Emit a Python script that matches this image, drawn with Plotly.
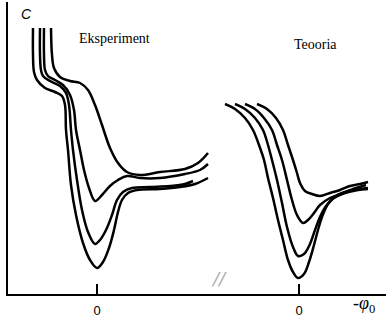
import plotly.graph_objects as go

# --- Experiment (left panel): potential relative to pzc, capacitance (arb. units)
exp_x_a = [-0.64, -0.64, -0.63, -0.60, -0.52, -0.42, -0.35, -0.32, -0.31, -0.29, -0.26, -0.21, -0.14, -0.07, 0.00,
           0.06, 0.12, 0.17, 0.21, 0.25, 0.31, 0.40, 0.63, 0.83, 0.98, 1.11]
exp_c_a = [26.6, 23.9, 22.2, 21.4, 20.6, 20.2, 19.8, 18.9, 16.4, 14.4, 10.9, 7.9, 5.1, 3.4, 2.6,
           3.2, 4.6, 6.4, 8.2, 9.4, 10.1, 10.4, 10.5, 10.7, 11.0, 11.6]

exp_x_b = [-0.57, -0.57, -0.56, -0.54, -0.47, -0.37, -0.31, -0.28, -0.26, -0.24, -0.20, -0.15, -0.09, -0.02,
           0.03, 0.09, 0.15, 0.20, 0.26, 0.35, 0.53, 0.73, 0.88, 0.96]
exp_c_b = [26.6, 23.9, 22.4, 21.8, 21.3, 20.8, 20.1, 18.9, 16.4, 14.4, 11.4, 8.4, 6.2, 5.0,
           5.4, 6.4, 7.9, 9.4, 10.2, 10.6, 10.7, 10.8, 11.0, 11.3]

exp_x_c = [-0.53, -0.53, -0.52, -0.49, -0.42, -0.34, -0.27, -0.23, -0.21, -0.17, -0.13, -0.08, -0.02,
           0.05, 0.13, 0.21, 0.30, 0.43, 0.63, 0.88, 1.03, 1.11]
exp_c_c = [26.6, 23.9, 22.4, 21.8, 21.4, 20.9, 19.9, 18.4, 16.4, 14.4, 12.4, 10.6, 9.3,
           9.9, 10.8, 11.4, 11.8, 11.6, 11.6, 12.0, 12.4, 13.0]

exp_x_d = [-0.46, -0.45, -0.43, -0.37, -0.27, -0.17, -0.09, -0.02, 0.05, 0.13, 0.21, 0.30, 0.43,
           0.63, 0.88, 1.01, 1.11]
exp_c_d = [26.6, 23.9, 22.6, 21.7, 21.3, 21.1, 20.4, 18.9, 16.9, 14.6, 13.1, 12.2, 11.9,
           12.2, 12.5, 13.1, 14.1]

# --- Theory (right panel)
th_x_1 = [-0.74, -0.64, -0.54, -0.46, -0.40, -0.35, -0.31, -0.26, -0.21, -0.16, -0.11, -0.06, -0.01,
          0.05, 0.10, 0.15, 0.19, 0.23, 0.29, 0.37, 0.49, 0.61, 0.69]
th_c_1 = [19.0, 18.5, 17.6, 16.4, 14.9, 13.4, 11.6, 9.6, 7.4, 5.4, 3.4, 2.2, 1.6,
          2.0, 3.2, 4.9, 6.4, 7.7, 9.0, 9.8, 10.3, 10.5, 10.6]

th_x_2 = [-0.64, -0.54, -0.44, -0.36, -0.31, -0.27, -0.22, -0.17, -0.12, -0.06, -0.01,
          0.05, 0.11, 0.16, 0.21, 0.27, 0.35, 0.46, 0.59, 0.69]
th_c_2 = [19.0, 18.5, 17.6, 16.4, 14.9, 13.4, 11.4, 9.1, 6.7, 4.7, 3.8,
          4.0, 5.0, 6.4, 7.7, 8.8, 9.6, 10.1, 10.4, 10.5]

th_x_3 = [-0.54, -0.44, -0.35, -0.27, -0.22, -0.17, -0.12, -0.07, -0.02,
          0.04, 0.09, 0.15, 0.21, 0.31, 0.44, 0.57, 0.67]
th_c_3 = [19.0, 18.5, 17.6, 16.4, 14.9, 13.4, 11.4, 9.4, 7.9,
          7.1, 7.4, 8.1, 8.9, 9.6, 10.1, 10.6, 10.9]

th_x_4 = [-0.42, -0.32, -0.23, -0.16, -0.11, -0.06, -0.02, 0.01, 0.06, 0.13, 0.21, 0.31, 0.41, 0.51, 0.61, 0.69]
th_c_4 = [19.0, 18.5, 17.6, 16.4, 14.9, 13.4, 12.1, 11.1, 10.3, 10.0, 9.8, 10.1, 10.4, 10.8, 11.0, 11.2]

tick_vals = [0]
tick_text = ["0"]

LINE = dict(color="black", width=2.5, shape="spline", smoothing=1.0)

fig = go.Figure()
for xs, cs in [(exp_x_a, exp_c_a), (exp_x_b, exp_c_b), (exp_x_c, exp_c_c), (exp_x_d, exp_c_d)]:
    fig.add_trace(go.Scatter(x=xs, y=cs, mode="lines", line=LINE, xaxis="x", yaxis="y",
                             showlegend=False, hoverinfo="skip"))
for xs, cs in [(th_x_1, th_c_1), (th_x_2, th_c_2), (th_x_3, th_c_3), (th_x_4, th_c_4)]:
    fig.add_trace(go.Scatter(x=xs, y=cs, mode="lines", line=LINE, xaxis="x2", yaxis="y",
                             showlegend=False, hoverinfo="skip"))

W, H = 392, 322
ML, MR, MT, MB = 8, 6, 2, 28
plot_w = W - ML - MR
plot_h = H - MT - MB
split = (217 - ML) / plot_w


def px(xp):
    return (xp - ML) / plot_w


def py(yp):
    return (H - MB - yp) / plot_h


xcommon = dict(showline=True, linecolor="black", linewidth=2, showgrid=False, zeroline=False,
               ticks="inside", ticklen=10, tickwidth=2, tickcolor="black",
               tickvals=tick_vals, ticktext=tick_text, ticklabelstandoff=3,
               tickfont=dict(family="Liberation Sans, Arial", size=13, color="black"))

fig.update_layout(
    width=W, height=H,
    margin=dict(l=ML, r=MR, t=MT, b=MB),
    paper_bgcolor="white", plot_bgcolor="white",
    xaxis=dict(domain=[0, split], range=[-0.89, 1.20], anchor="y", **xcommon),
    xaxis2=dict(domain=[split, 1], range=[-0.82, 0.87], anchor="y", **xcommon),
    yaxis=dict(range=[0, 29.2], showline=True, linecolor="black", linewidth=2,
               showgrid=False, zeroline=False, showticklabels=False, ticks=""),
    annotations=[
        dict(text="<i>C</i>", x=px(19), y=py(4), xref="paper", yref="paper",
             showarrow=False, font=dict(family="Liberation Sans, Arial", size=14, color="black")),
        dict(text="Eksperiment", x=px(77), y=py(29), xref="paper", yref="paper", xanchor="left",
             showarrow=False, font=dict(family="Liberation Serif, Times New Roman", size=14, color="black")),
        dict(text="Teooria", x=px(292), y=py(35), xref="paper", yref="paper", xanchor="left",
             showarrow=False, font=dict(family="Liberation Serif, Times New Roman", size=14, color="black")),
        dict(text="-<i>φ</i><sub>0</sub>", x=px(377), y=py(318), xref="paper", yref="paper",
             showarrow=False, font=dict(family="Liberation Serif, Times New Roman", size=18, color="black")),
        dict(text="<i>//</i>", x=px(219), y=py(291), xref="paper", yref="paper",
             showarrow=False, font=dict(family="DejaVu Sans", size=18, color="#b0b0b0")),
    ],
)

fig.write_html("out.html")
